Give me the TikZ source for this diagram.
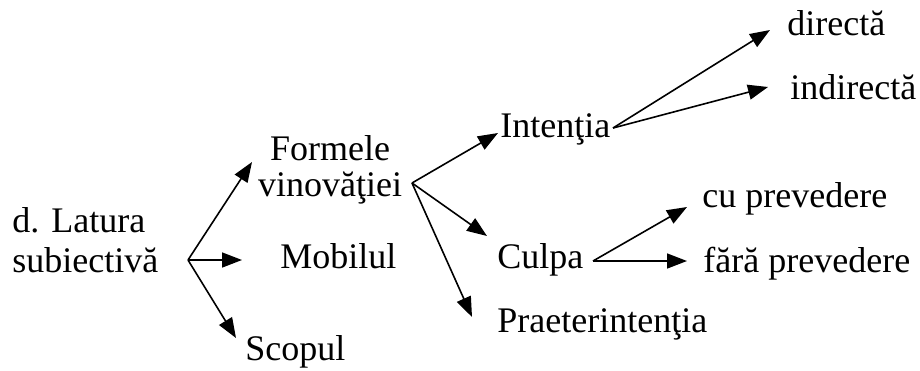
\documentclass[tikz,border=0pt]{standalone}
\usepackage{fontspec}
\setmainfont{Liberation Serif}
\usetikzlibrary{arrows.meta}

\tikzset{
  arr/.style={-{Triangle[length=10pt,width=7.5pt]}, line width=0.8pt},
  lbl/.style={inner sep=0pt, anchor=base west, font=\fontsize{18}{20}\selectfont},
}

\begin{document}
\begin{tikzpicture}[x=0.5pt,y=-0.5pt]
\useasboundingbox (0,0) rectangle (920,370);

% labels
\node [lbl, anchor=west, align=left] (lat) at (12,240) {d. Latura\\subiectivă};
\node [lbl, anchor=center, align=center] (form) at (330,170) {Formele\\[-2pt]vinovăţiei};
\node [lbl] (mob) at (280,268) {Mobilul};
\node [lbl] (scop) at (245,360) {Scopul};
\node [lbl] (int) at (500,137) {Intenţia};
\node [lbl] (culpa) at (497,268) {Culpa};
\node [lbl] (praet) at (497,332) {Praeterintenţia};
\node [lbl] (dir) at (787,35) {directă};
\node [lbl] (indir) at (790,99) {indirectă};
\node [lbl] (cuprev) at (702,207) {cu prevedere};
\node [lbl] (faraprev) at (703,272) {fără prevedere};

% forks and arrow ends
\coordinate (fLat) at (188,260);
\coordinate (tForm) at (252,162);
\coordinate (tMob) at (242,260);
\coordinate (tScop) at (236,338);

\coordinate (fForm) at (412,183);
\coordinate (tInt) at (498,133);
\coordinate (tCulpa) at (487,236);
\coordinate (tPraet) at (472,317);

\coordinate (fInt) at (613,128);
\coordinate (tDir) at (770,30);
\coordinate (tIndir) at (768,87);

\coordinate (fCulpa) at (593,261);
\coordinate (tCu) at (687,207);
\coordinate (tFara) at (687,261);

\draw [arr] (fLat) -- (tForm);
\draw [arr] (fLat) -- (tMob);
\draw [arr] (fLat) -- (tScop);

\draw [arr] (fForm) -- (tInt);
\draw [arr] (fForm) -- (tCulpa);
\draw [arr] (fForm) -- (tPraet);

\draw [arr] (fInt) -- (tDir);
\draw [arr] (fInt) -- (tIndir);

\draw [arr] (fCulpa) -- (tCu);
\draw [arr] (fCulpa) -- (tFara);

\end{tikzpicture}
\end{document}
